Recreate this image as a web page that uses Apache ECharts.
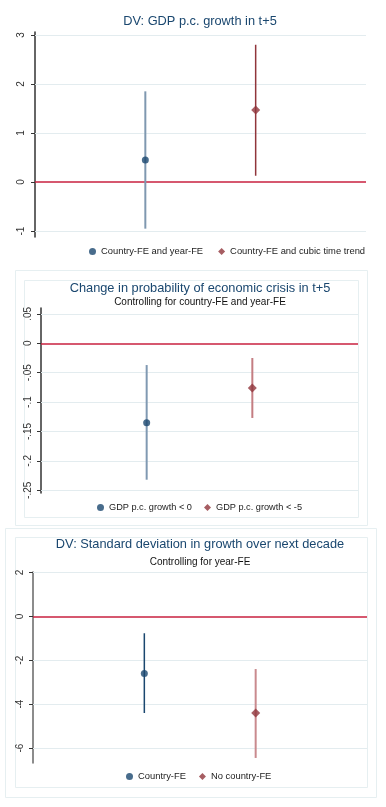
<!DOCTYPE html>
<html>
<head>
<meta charset="utf-8">
<script src="https://cdn.jsdelivr.net/npm/echarts@6/dist/echarts.min.js"></script>
<style>html,body{margin:0;padding:0;background:#fff;}#c{width:386px;height:807px;}</style>
</head>
<body>
<div id="c"></div>
<script>
// ---- Data ----
const titles = ["DV: GDP p.c. growth in t+5", "Change in probability of economic crisis in t+5", "DV: Standard deviation in growth over next decade"];
const subtitles = ["", "Controlling for country-FE and year-FE", "Controlling for year-FE"];

const p1Names = ["Country-FE and year-FE", "Country-FE and cubic time trend"];
const p1Est = [0.45, 1.47];
const p1Lo = [-0.95, 0.13];
const p1Hi = [1.85, 2.80];
const p1Ticks = [-1, 0, 1, 2, 3];
const p1TickLabels = ["-1", "0", "1", "2", "3"];

const p2Names = ["GDP p.c. growth < 0", "GDP p.c. growth < -5"];
const p2Est = [-0.135, -0.076];
const p2Lo = [-0.232, -0.127];
const p2Hi = [-0.037, -0.025];
const p2Ticks = [0.05, 0, -0.05, -0.1, -0.15, -0.2, -0.25];
const p2TickLabels = [".05", "0", "-.05", "-.1", "-.15", "-.2", "-.25"];

const p3Names = ["Country-FE", "No country-FE"];
const p3Est = [-2.6, -4.4];
const p3Lo = [-4.4, -6.45];
const p3Hi = [-0.77, -2.4];
const p3Ticks = [2, 0, -2, -4, -6];
const p3TickLabels = ["2", "0", "-2", "-4", "-6"];

const xPos = [1, 2];

// ---- Styles ----
const NAVY = '#1a476f', MAROON = '#90353b';
const GRIDC = '#e3ecef', ZEROC = '#c8203f';
const FONT = 'Liberation Sans, Arial, sans-serif';

const panels = [
  {names:p1Names, est:p1Est, lo:p1Lo, hi:p1Hi, ticks:p1Ticks, labels:p1TickLabels,
   grid:{left:35, right:20, top:32, height:205}, min:-1.12, max:3.06, margin:9, axisColor:'#333',
   ciColors:['#7f98b0', MAROON], ciWidths:[2,1.5],
   titleTop:15, subGap:3, legendLeft:89, legendTop:247, legendGap:15, legendFont:9.4},
  {names:p2Names, est:p2Est, lo:p2Lo, hi:p2Hi, ticks:p2Ticks, labels:p2TickLabels,
   grid:{left:41, right:28, top:308, height:185}, min:-0.2546, max:0.06, margin:8, axisColor:'#333',
   ciColors:['#8099b2', '#c47d82'], ciWidths:[2,2],
   titleTop:282, subGap:2, legendLeft:97, legendTop:503, legendGap:12, legendFont:9.2},
  {names:p3Names, est:p3Est, lo:p3Lo, hi:p3Hi, ticks:p3Ticks, labels:p3TickLabels,
   grid:{left:33, right:19, top:572, height:191}, min:-6.68, max:2.02, margin:8, axisColor:'#666',
   ciColors:[NAVY, '#c98a8e'], ciWidths:[1.5,2],
   titleTop:538, subGap:6, legendLeft:126, legendTop:772, legendGap:13, legendFont:9.4}
];

const option = {
  backgroundColor:'#fff',
  animation:false,
  title:[], grid:[], xAxis:[], yAxis:[], series:[], legend:[],
  graphic:[
    {type:'rect', shape:{x:15.5,y:270.5,width:352,height:255}, style:{fill:'none',stroke:'#e6eff1',lineWidth:1}},
    {type:'rect', shape:{x:24.5,y:280.5,width:334,height:237}, style:{fill:'none',stroke:'#e6eff1',lineWidth:1}},
    {type:'rect', shape:{x:5.5,y:528.5,width:371,height:269}, style:{fill:'none',stroke:'#e6eff1',lineWidth:1}},
    {type:'rect', shape:{x:15.5,y:537.5,width:352,height:250}, style:{fill:'none',stroke:'#e6eff1',lineWidth:1}}
  ]
};

panels.forEach((p, i) => {
  option.title.push({
    text: titles[i], subtext: subtitles[i], left: 200, textAlign: 'center', top: p.titleTop,
    itemGap: p.subGap, padding: 0,
    textStyle:{fontFamily:FONT, fontSize:12.8, fontWeight:'normal', color:NAVY},
    subtextStyle:{fontFamily:FONT, fontSize:10, color:'#111'}
  });
  option.grid.push(Object.assign({containLabel:false}, p.grid));
  option.xAxis.push({type:'value', gridIndex:i, min:0, max:3, show:false, splitLine:{show:false}});
  option.yAxis.push({
    type:'value', gridIndex:i, min:p.min, max:p.max,
    axisLine:{show:true, lineStyle:{color:p.axisColor, width:1.5}},
    axisTick:{show:true, length:4, customValues:p.ticks, lineStyle:{color:'#333', width:1}},
    axisLabel:{customValues:p.ticks, rotate:90, margin:p.margin, fontFamily:FONT, fontSize:10, color:'#333',
      formatter:(v)=>{ let k = p.ticks.findIndex(t=>Math.abs(t-v)<1e-9); return k>=0 ? p.labels[k] : ''; }},
    splitLine:{show:false}
  });
  const gridLines = p.ticks.filter(t=>t!==0).map(t=>({yAxis:t, lineStyle:{color:GRIDC, width:1, type:'solid'}}));
  gridLines.push({yAxis:0, lineStyle:{color:ZEROC, width:1.5, type:'solid'}});
  for (let k = 0; k < 2; k++) {
    option.series.push({
      name: 'ci'+i+'_'+k, type:'line', xAxisIndex:i, yAxisIndex:i,
      data:[[xPos[k], p.lo[k]], [xPos[k], p.hi[k]]],
      showSymbol:false, symbol:'none', z:3, silent:true, clip:true,
      lineStyle:{color:p.ciColors[k], width:p.ciWidths[k]},
      markLine: k===0 ? {silent:true, symbol:['none','none'], label:{show:false}, z:1, data:gridLines, animation:false} : undefined
    });
  }
  for (let k = 0; k < 2; k++) {
    option.series.push({
      name: p.names[k], type:'scatter', xAxisIndex:i, yAxisIndex:i,
      data:[[xPos[k], p.est[k]]],
      symbol: k===0 ? 'circle' : 'diamond', symbolSize: k===0 ? 7 : 9, z:5,
      itemStyle:{color: k===0 ? NAVY : MAROON}
    });
  }
  option.legend.push({
    data:[{name:p.names[0], icon:'circle'}, {name:p.names[1], icon:'diamond'}],
    left:p.legendLeft, top:p.legendTop, width:300, itemWidth:7, itemHeight:7, itemGap:p.legendGap,
    padding:0, selectedMode:false,
    textStyle:{fontFamily:FONT, fontSize:p.legendFont, color:'#222'}
  });
});

const chart = echarts.init(document.getElementById('c'), null, {renderer:'canvas'});
chart.setOption(option);
</script>
</body>
</html>
